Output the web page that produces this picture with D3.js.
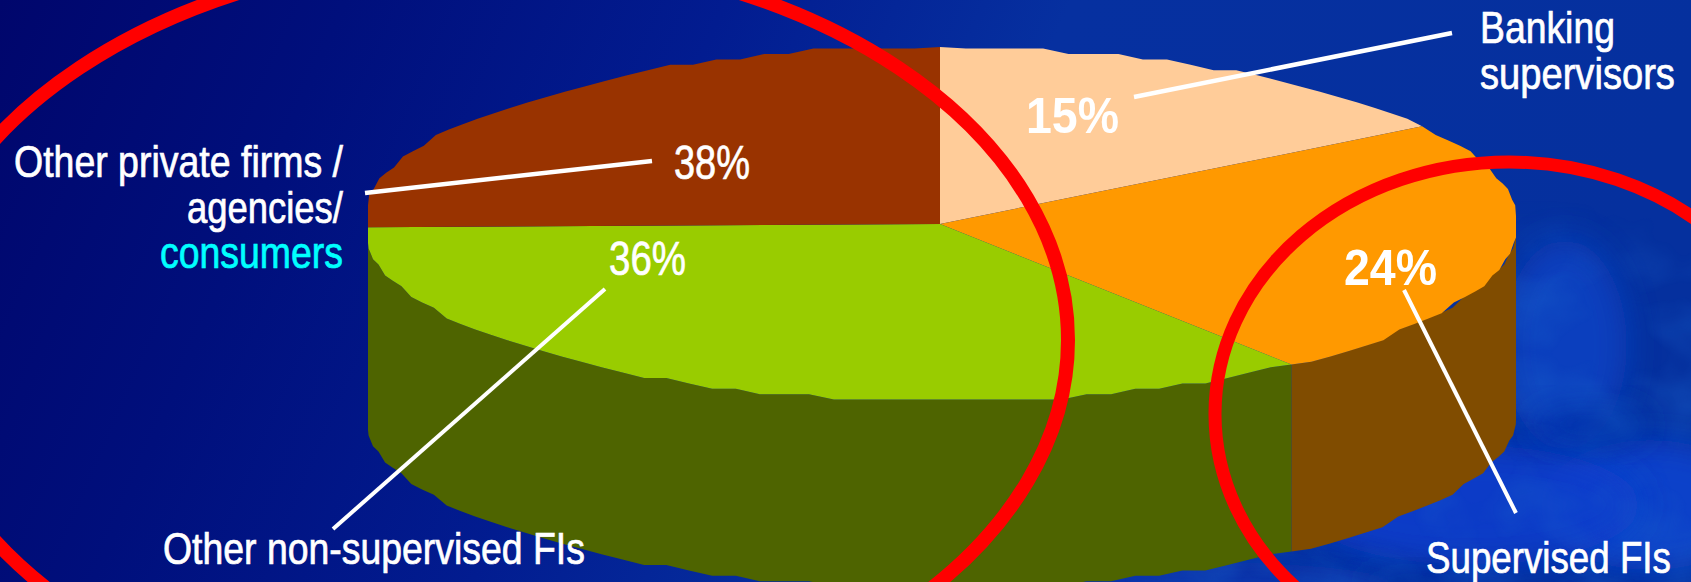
<!DOCTYPE html>
<html>
<head>
<meta charset="utf-8">
<script src="https://cdnjs.cloudflare.com/ajax/libs/d3/7.8.5/d3.min.js"></script>
<style>html,body{margin:0;padding:0;background:#00106e;overflow:hidden}svg{display:block}text{font-family:"Liberation Sans",Arial,sans-serif}</style>
</head>
<body>
<svg id="chart" width="1691" height="582"></svg>
<script>
// Data
const categories = ["Banking supervisors", "Supervised FIs", "Other non-supervised FIs", "Other private firms / agencies/ consumers"];
const percentLabels = ["15%", "24%", "36%", "38%"];
// The drawn slices do not follow the printed percentages (those sum to 113): drawn shares, in percent of the disc
const drawnShares = [15.7, 23.9, 35.1, 25.3];
const topColors = ["#ffcc99", "#ff9900", "#99cc00", "#993300"];
const sideColors = ["#805f4c", "#804c00", "#4e6400", "#4c1a00"];

const W = 1691, H = 582;
const svg = d3.select("#chart");
const defs = svg.append("defs");

// background
const bg = defs.append("linearGradient").attr("id","bg").attr("x1",0).attr("y1",0).attr("x2",1).attr("y2",0.15);
[[0,"#00066c"],[0.2,"#000f7c"],[0.42,"#021c90"],[0.62,"#0630a0"],[1,"#05309e"]].forEach(s=>bg.append("stop").attr("offset",s[0]).attr("stop-color",s[1]));
defs.append("filter").attr("id","soft").attr("x","-50%").attr("y","-50%").attr("width","200%").attr("height","200%")
  .append("feGaussianBlur").attr("stdDeviation",16);
const f = defs.append("filter").attr("id","clouds").attr("x",0).attr("y",0).attr("width","100%").attr("height","100%");
f.append("feTurbulence").attr("type","fractalNoise").attr("baseFrequency","0.012 0.016").attr("numOctaves",3).attr("seed",7);
f.append("feColorMatrix").attr("type","matrix").attr("values","0 0 0 0 0.01  0 0 0 0 0.12  0 0 0 0 0.60  1.8 0 0 0 -0.72");
const fade = defs.append("radialGradient").attr("id","fade").attr("cx",0.75).attr("cy",0.75).attr("r",0.7);
[[0,"#fff"],[0.7,"#fff"],[1,"#000"]].forEach(s=>fade.append("stop").attr("offset",s[0]).attr("stop-color",s[1]));
defs.append("mask").attr("id","fadeMask").attr("maskUnits","userSpaceOnUse").attr("x",0).attr("y",0).attr("width",W).attr("height",H)
  .append("rect").attr("x",1000).attr("y",180).attr("width",W-1000).attr("height",H-180).attr("fill","url(#fade)");

svg.append("rect").attr("width",W).attr("height",H).attr("fill","url(#bg)");
const blobs = [
  {cx:1565, cy:345, rx:62, ry:105, c:"#0842c4", o:0.85},
  {cx:1650, cy:505, rx:110, ry:65, c:"#0a42cc", o:0.95},
  {cx:1470, cy:505, rx:170, ry:60, c:"#083ccc", o:0.9},
  {cx:1210, cy:590, rx:200, ry:28, c:"#0838b4", o:0.7},
  {cx:1590, cy:425, rx:60, ry:20, c:"#0530a8", o:0.8},
  {cx:1410, cy:585, rx:50, ry:14, c:"#04259a", o:0.8}
];
svg.append("g").selectAll("ellipse").data(blobs).join("ellipse")
  .attr("cx",d=>d.cx).attr("cy",d=>d.cy).attr("rx",d=>d.rx).attr("ry",d=>d.ry)
  .attr("fill",d=>d.c).attr("opacity",d=>d.o).attr("filter","url(#soft)");
svg.append("g").attr("mask","url(#fadeMask)")
  .append("rect").attr("x",1000).attr("y",180).attr("width",W-1000).attr("height",H-180).attr("filter","url(#clouds)").attr("opacity",0.5);

// pie geometry: unit disc projected to the tilted ellipse
const x = d3.scaleLinear().domain([-1,1]).range([362,1518]);
const y = d3.scaleLinear().domain([-1,1]).range([47,401]);
const xMin = 368, xMax = 1516, depth = 187, yStep = 5.4;
const arcs = d3.pie().sort(null).startAngle(0).endAngle(2*Math.PI)(drawnShares);

function rim(a0, a1) {
  const n = Math.max(2, Math.ceil((a1-a0)/0.045));
  return d3.range(n+1).map(i => {
    const a = a0 + (a1-a0)*i/n;
    const px = Math.max(xMin, Math.min(xMax, x(Math.sin(a))));
    const raw = y(-Math.cos(a));
    const py = (i === 0 || i === n) ? raw : Math.round(raw/yStep)*yStep;
    return [px, py];
  });
}
const line = d3.line();

// side walls (only the front half of the rim)
const g = svg.append("g");
arcs.forEach((d,i) => {
  const a0 = Math.max(d.startAngle, Math.PI/2), a1 = Math.min(d.endAngle, 3*Math.PI/2);
  if (a1 <= a0) return;
  const t = rim(a0,a1);
  const b = t.slice().reverse().map(p => [p[0], p[1]+depth]);
  g.append("path").attr("d", line(t.concat(b))+"Z").attr("fill", sideColors[i]);
});
// top face
arcs.forEach((d,i) => {
  const pts = [[x(0),y(0)]].concat(rim(d.startAngle,d.endAngle));
  g.append("path").attr("d", line(pts)+"Z").attr("fill", topColors[i]);
});

// red highlight rings
const rings = [
  {cx:489, cy:340, rx:579, ry:385, w:14},
  {cx:1509, cy:414, rx:294, ry:252, w:13}
];
svg.selectAll("ellipse.ring").data(rings).join("ellipse").attr("class","ring")
  .attr("cx",d=>d.cx).attr("cy",d=>d.cy).attr("rx",d=>d.rx).attr("ry",d=>d.ry)
  .attr("fill","none").attr("stroke","#ff0000").attr("stroke-width",d=>d.w);

// leader lines
const leaders = [
  {i:0, p:[[1134,97],[1452,33]], w:4.5},
  {i:1, p:[[1404,290],[1516,513]], w:4},
  {i:2, p:[[605,289],[333,529]], w:4},
  {i:3, p:[[365,193],[652,161]], w:4.5}
];
leaders.forEach(l => svg.append("path").attr("d",line(l.p)).attr("stroke","#fff").attr("stroke-width",l.w).attr("fill","none"));

// text, condensed horizontally to the widths in the picture
const texts = [
  {t:percentLabels[0], x0:1026, x1:1119, b:133, s:50, bold:true},
  {t:percentLabels[1], x0:1344, x1:1437, b:285, s:50, bold:true},
  {t:percentLabels[2], x0:609, x1:686, b:275, s:49},
  {t:percentLabels[3], x0:674, x1:750, b:179, s:49},
  {t:"Banking", x0:1480, x1:1615, b:43, s:44},
  {t:"supervisors", x0:1480, x1:1675, b:89, s:44},
  {t:"Supervised FIs", x0:1426, x1:1671, b:573, s:44},
  {t:"Other non-supervised FIs", x0:163, x1:585, b:564, s:44},
  {t:"Other private firms /", x0:14, x1:343, b:177, s:44},
  {t:"agencies/", x0:187, x1:343, b:223, s:44},
  {t:"consumers", x0:160, x1:343, b:268, s:44, c:"#00ffff"}
];
svg.selectAll("text.lbl").data(texts).join("text").attr("class","lbl")
  .attr("font-size",d=>d.s).attr("font-weight",d=>d.bold?"bold":"normal")
  .attr("fill",d=>d.c||"#fff").attr("stroke",d=>d.c||"#fff").attr("stroke-width",d=>d.bold?0:0.7)
  .text(d=>d.t)
  .attr("transform",function(d){
    const natural = this.getComputedTextLength();
    return `translate(${d.x0},${d.b}) scale(${(d.x1-d.x0)/natural},1)`;
  });
</script>
</body>
</html>
